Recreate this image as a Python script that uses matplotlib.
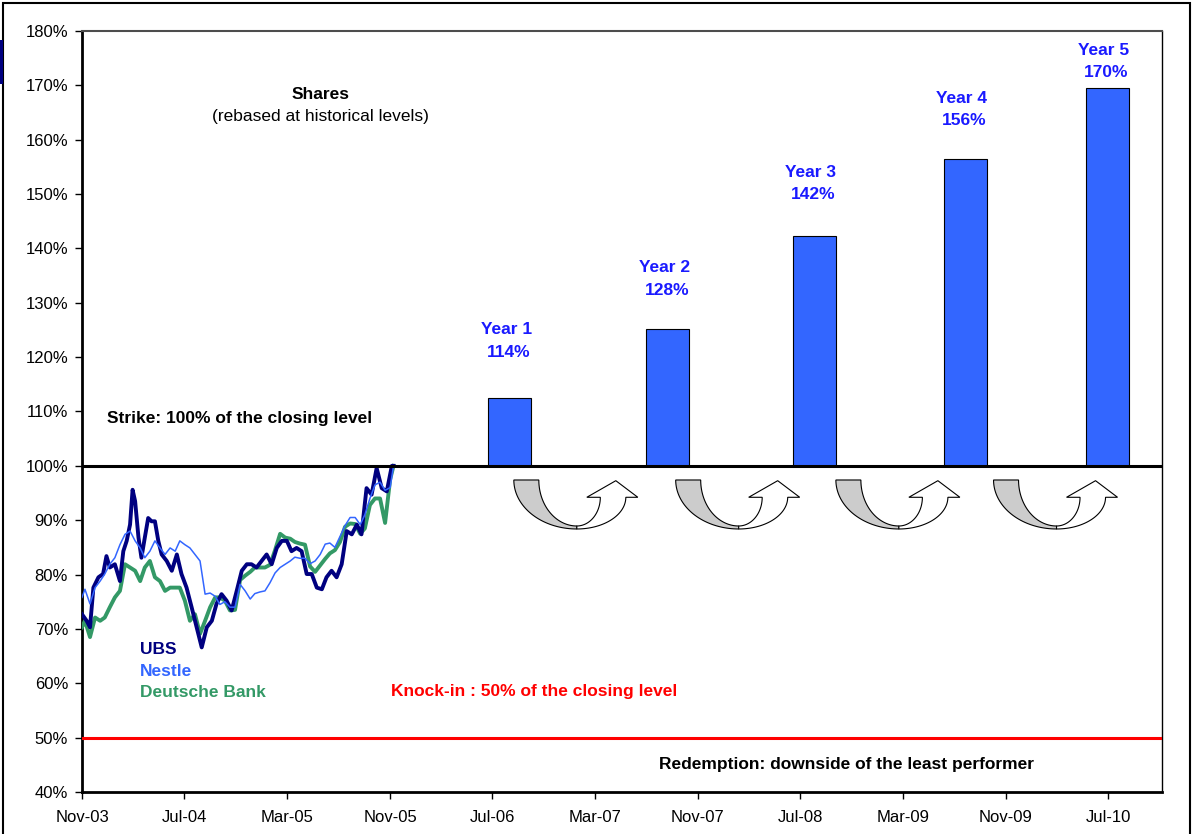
import matplotlib
matplotlib.use("Agg")
import matplotlib.pyplot as plt
import matplotlib.dates as mdates
import matplotlib.transforms as mtransforms
from matplotlib.path import Path
from matplotlib.patches import PathPatch, Rectangle
import numpy as np
import pandas as pd

plt.rcParams['font.family'] = ['Liberation Sans', 'DejaVu Sans']
plt.rcParams['font.size'] = 12.5

start = pd.Timestamp("2003-11-01")

# share histories (rebased, in %), x = days after start
nd_days = [0, 7, 19, 31, 43, 54, 66, 78, 90, 102, 114, 126, 138, 149, 161, 173, 185, 197, 209, 221,
           232, 244, 256, 268, 280, 292, 304, 316, 327, 339, 351, 363, 375, 387, 399, 410, 422, 434,
           446, 458, 470, 482, 494, 505, 517, 529, 541, 553, 565, 577, 588, 600, 612, 624, 636, 648,
           660, 671, 683, 695, 707, 719, 731, 739]
nestle = [75.8, 77.3, 74.6, 77.6, 78.8, 80.1, 81.9, 83.1, 85.5, 87.4, 88.0, 86.2,
          84.9, 83.1, 84.3, 86.2, 84.9, 83.7, 84.9, 84.3, 86.2, 85.5,
          84.9, 83.7, 82.5, 76.4, 76.6, 76.0, 74.5, 75.0, 74.0, 74.0,
          78.2, 77.0, 75.5, 76.5, 76.8, 77.0, 78.5, 80.3, 81.3, 81.9,
          82.5, 83.2, 83.0, 83.0, 82.0, 82.5, 83.7, 85.6, 85.8, 85.0,
          87.0, 89.0, 90.5, 90.5, 89.2, 91.0, 94.0, 96.5, 97.0, 95.5,
          96.0, 100.0]
deutsche = [70.3, 71.5, 68.5, 72.1, 71.5, 72.1, 74.0, 75.8, 77.0, 81.9, 81.3, 80.7,
            78.8, 81.3, 82.5, 79.5, 78.8, 77.0, 77.6, 77.6, 77.6, 75.2,
            71.5, 72.7, 69.1, 71.5, 74.0, 75.8, 75.8, 75.2, 73.4, 73.5,
            79.0, 79.8, 80.5, 81.3, 81.3, 81.3, 81.8, 84.5, 87.5, 86.8,
            86.6, 86.0, 85.7, 85.5, 81.5, 80.5, 81.7, 82.9, 83.9, 84.5,
            86.0, 88.8, 89.4, 89.3, 87.5, 88.5, 92.8, 94.0, 94.0, 89.5,
            97.5, 100.0]
ubs_days = [0, 11, 19, 27, 39, 50, 58, 66, 78, 90, 98, 106, 114, 120, 126, 134, 141, 149, 157, 165,
            173, 181, 189, 201, 213, 225, 236, 248, 260, 272, 284, 296, 308, 319, 331, 343, 355, 367,
            379, 391, 402, 414, 426, 438, 450, 462, 474, 486, 497, 509, 521, 533, 545, 557, 569, 580,
            592, 604, 616, 628, 640, 652, 663, 675, 687, 699, 711, 723, 735, 739]
ubs = [72.7, 71.5, 70.3, 77.6, 79.5, 80.1, 83.4, 81.3, 81.9, 78.8,
       84.3, 86.2, 89.2, 95.6, 93.5, 86.8, 83.1, 86.8, 90.4, 89.8,
       89.8, 86.2, 83.7, 82.5, 80.7, 83.7, 80.1, 77.6, 74.0, 70.3,
       66.6, 70.3, 71.5, 74.6, 76.4, 75.2, 73.4, 77.0, 80.7, 81.9,
       81.9, 81.3, 82.5, 83.7, 81.9, 84.9, 86.2, 86.2, 84.3, 84.9,
       84.3, 80.1, 80.1, 77.6, 77.3, 79.5, 80.7, 79.5, 81.9, 88.0,
       87.4, 89.2, 87.4, 95.9, 94.7, 99.6, 95.9, 95.3, 100.0, 100.0]

# yearly coupons
bar_dates = ["2006-08-12", "2007-08-22", "2008-08-03", "2009-07-27", "2010-06-29"]
bar_tops = [112.5, 125.2, 142.3, 156.4, 169.5]
year_names = ["Year 1", "Year 2", "Year 3", "Year 4", "Year 5"]
year_pcts = ["114%", "128%", "142%", "156%", "170%"]
arrow_dates = ["2006-08-19", "2007-09-07", "2008-09-21", "2009-09-30"]

tick_dates = pd.date_range("2003-11-01", periods=11, freq="8MS")

fig = plt.figure(figsize=(12.01, 8.34), dpi=100)
ax = fig.add_axes([82 / 1201, 1 - 792 / 834, 1080 / 1201, 761 / 834])

# bars from the strike
bx = pd.to_datetime(bar_dates)
ax.bar(bx, np.array(bar_tops) - 100, bottom=100, width=102, color="#3366FF",
       edgecolor="black", linewidth=0.8, zorder=2)

ax.plot(start + pd.to_timedelta(nd_days, unit="D"), deutsche, color="#339966", lw=2.8, zorder=3)
ax.plot(start + pd.to_timedelta(ubs_days, unit="D"), ubs, color="#000080", lw=2.8, zorder=4)
ax.plot(start + pd.to_timedelta(nd_days, unit="D"), nestle, color="#3366FF", lw=1.1, zorder=5)

ax.axhline(100, color="black", lw=2.2, zorder=6)
ax.axhline(50, color="red", lw=2.2, zorder=6)

ax.set_ylim(40, 180)
ax.set_yticks(range(40, 181, 10))
ax.yaxis.set_major_formatter(lambda v, p: f"{v:.0f}%")
ax.set_xlim(start, pd.Timestamp("2010-11-06"))
ax.set_xticks(tick_dates)
ax.xaxis.set_major_formatter(mdates.DateFormatter("%b-%y"))
ax.tick_params(direction="out", length=5, width=1, labelsize=12, pad=5)
ax.tick_params(axis="x", pad=8)

ax.spines["left"].set_linewidth(2)
ax.spines["bottom"].set_linewidth(2)
ax.spines["top"].set_linewidth(1.5)
ax.spines["top"].set_color("#4d4d4d")
ax.spines["right"].set_linewidth(1)

# texts
ax.text(pd.Timestamp("2005-05-19"), 168.4, "Shares", ha="center", va="center", fontweight="bold")
ax.text(pd.Timestamp("2005-05-19"), 164.2, "(rebased at historical levels)", ha="center", va="center")
ax.text(pd.Timestamp("2003-12-30"), 108.8, "Strike: 100% of the closing level", va="center",
        fontweight="bold")
ax.text(pd.Timestamp("2005-11-04"), 58.5, "Knock-in : 50% of the closing level", va="center",
        fontweight="bold", color="red")
ax.text(pd.Timestamp("2007-08-01"), 45.0, "Redemption: downside of the least performer",
        va="center", fontweight="bold")
ax.text(pd.Timestamp("2004-03-18"), 66.2, "UBS", va="center", fontweight="bold", color="#000080")
ax.text(pd.Timestamp("2004-03-18"), 62.1, "Nestle", va="center", fontweight="bold", color="#3366FF")
ax.text(pd.Timestamp("2004-03-18"), 58.3, "Deutsche Bank", va="center", fontweight="bold",
        color="#339966")

label_y = [125.0, 136.4, 154.0, 167.6, 176.5]
for d, name, pct, yy in zip(bx, year_names, year_pcts, label_y):
    ax.text(d - pd.Timedelta(days=8), yy, name, ha="center", va="center", fontweight="bold",
            color="#1a1aff")
    ax.text(d - pd.Timedelta(days=2), yy - 4.1, pct, ha="center", va="center", fontweight="bold",
            color="#1a1aff")


# U-turn arrows, local shape in pixels (y down)
def arc(cx, cy, rx, ry, t0, t1):
    t = np.linspace(t0, t1, 40)
    return np.c_[cx + rx * np.cos(t), cy + ry * np.sin(t)]


gray_shape = np.vstack([arc(64, 0, 63, 49, np.pi, np.pi / 2), arc(64, 0, 38, 46, np.pi / 2, np.pi)])
white_shape = np.vstack([arc(64, 17.3, 49, 31.7, np.pi / 2, 0),
                         [[125, 17.3], [103, 0.7], [74, 17.3]],
                         arc(64, 17.3, 23.5, 28.7, 0, np.pi / 2)])

for d in arrow_dates:
    anchor = mtransforms.ScaledTranslation(mdates.date2num(pd.Timestamp(d)), 97.4, ax.transData)
    tr = mtransforms.Affine2D().scale(1 / 100, -1 / 100) + fig.dpi_scale_trans + anchor
    for shape, fc in [(gray_shape, "#cccccc"), (white_shape, "white")]:
        p = PathPatch(Path(np.vstack([shape, shape[:1]]), closed=True), transform=tr,
                      facecolor=fc, edgecolor="black", lw=0.8, zorder=7, clip_on=False)
        ax.add_patch(p)

# outer frame of the slide
fig.patches.append(Rectangle((2.5 / 1201, -0.01), 1187.5 / 1201, 1.01 - 2.5 / 834, transform=fig.transFigure,
                             fill=False, edgecolor="black", lw=1.5))
fig.patches.append(Rectangle((0, 1 - 84 / 834), 2.5 / 1201, 44 / 834, transform=fig.transFigure,
                             facecolor="#000080", edgecolor="none"))

fig.savefig("out.png", dpi=100)
